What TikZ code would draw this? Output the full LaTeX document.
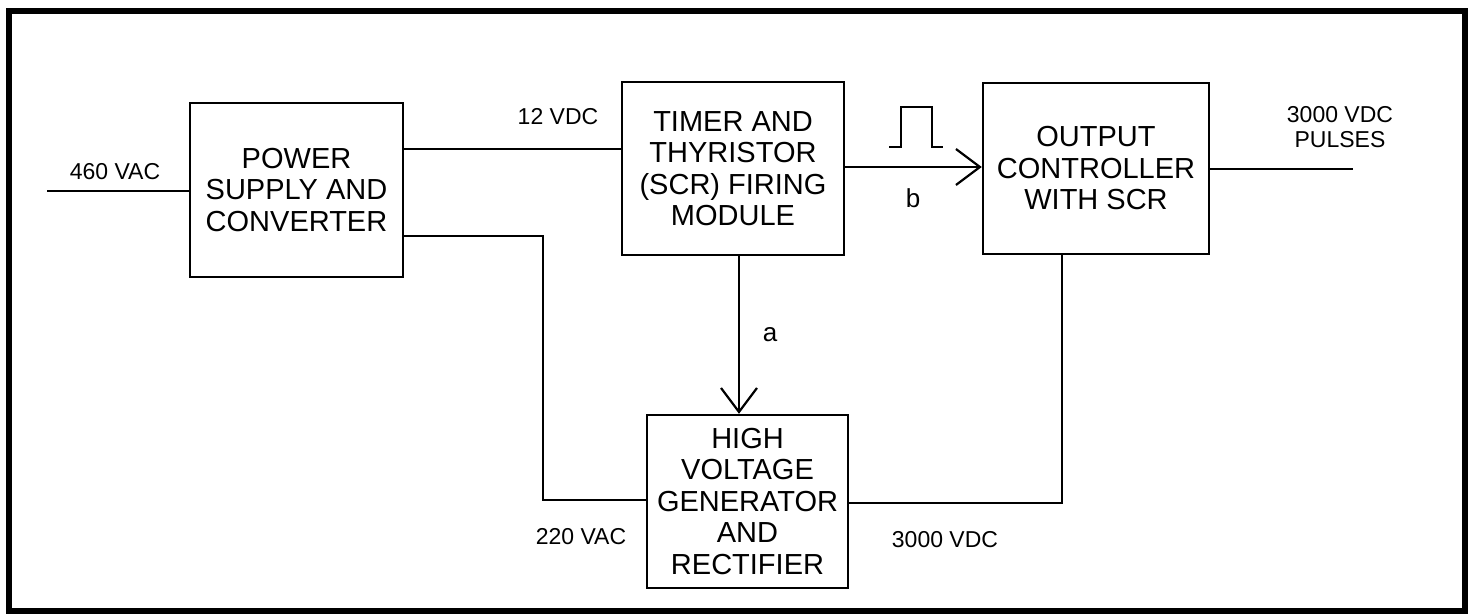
\documentclass[tikz,border=0pt]{standalone}
\usepackage{fontspec}
\setmainfont{Liberation Sans}
\usetikzlibrary{arrows.meta}
\begin{document}
\begin{tikzpicture}[x=1pt,y=-1pt,
  blk/.style={draw, line width=2.4pt, align=center, inner sep=0pt,
    font=\fontsize{29}{31.5}\selectfont},
  wire/.style={line width=2.4pt},
  arr/.style={wire, -{Straight Barb[length=24pt,width=36pt,line width=2.2pt]}},
  lbl/.style={font=\fontsize{23}{25}\selectfont, inner sep=0pt, align=center},
  let/.style={font=\fontsize{26}{28}\selectfont, inner sep=0pt}]
\useasboundingbox (0,0) rectangle (1472,614);
\draw[line width=6pt] (9,11) rectangle (1465,611);

\node[blk, minimum width=213pt, minimum height=174pt] (ps) at (296.5,190) {POWER\\SUPPLY AND\\CONVERTER};
\node[blk, minimum width=222pt, minimum height=173pt] (timer) at (733,168.5) {TIMER AND\\THYRISTOR\\(SCR) FIRING\\MODULE};
\node[blk, minimum width=226pt, minimum height=171pt] (out) at (1096,168.5) {OUTPUT\\CONTROLLER\\WITH SCR};
\node[blk, minimum width=201pt, minimum height=173pt] (hv) at (747.5,501.5) {HIGH\\VOLTAGE\\GENERATOR\\AND\\RECTIFIER};

\coordinate (in) at (47,191);
\coordinate (c1) at (543,236);
\coordinate (c2) at (543,500);
\coordinate (c3) at (1062,503);
\coordinate (outend) at (1353,169);

\draw[wire] (in) -- (in -| ps.west);
\draw[wire] (ps.east |- 0,149) -- (timer.west |- 0,149);
\draw[wire] (ps.east |- c1) -- (c1) -- (c2) -- (hv.west |- c2);
\draw[arr] (timer.east |- 0,167) -- (out.west |- 0,167);
\draw[arr] (timer.south -| 739,0) -- (hv.north -| 739,0);
\draw[wire] (hv.east |- c3) -- (c3) -- (out.south -| c3);
\draw[wire] (out.east |- outend) -- (outend);

\draw[line width=1.8pt] (889,147) -- (901,147) -- (901,107) -- (932,107) -- (932,147) -- (943,147);

\node[lbl] (l460) at (115,172) {460 VAC};
\node[lbl] (l12) at (558,117) {12 VDC};
\node[lbl] (l220) at (581,537) {220 VAC};
\node[lbl] (l3000) at (945,540) {3000 VDC};
\node[lbl] (lpulse) at (1340,127) {3000 VDC\\PULSES};
\node[let] (la) at (770,335) {a};
\node[let] (lb) at (913,198) {b};
\end{tikzpicture}
\end{document}
